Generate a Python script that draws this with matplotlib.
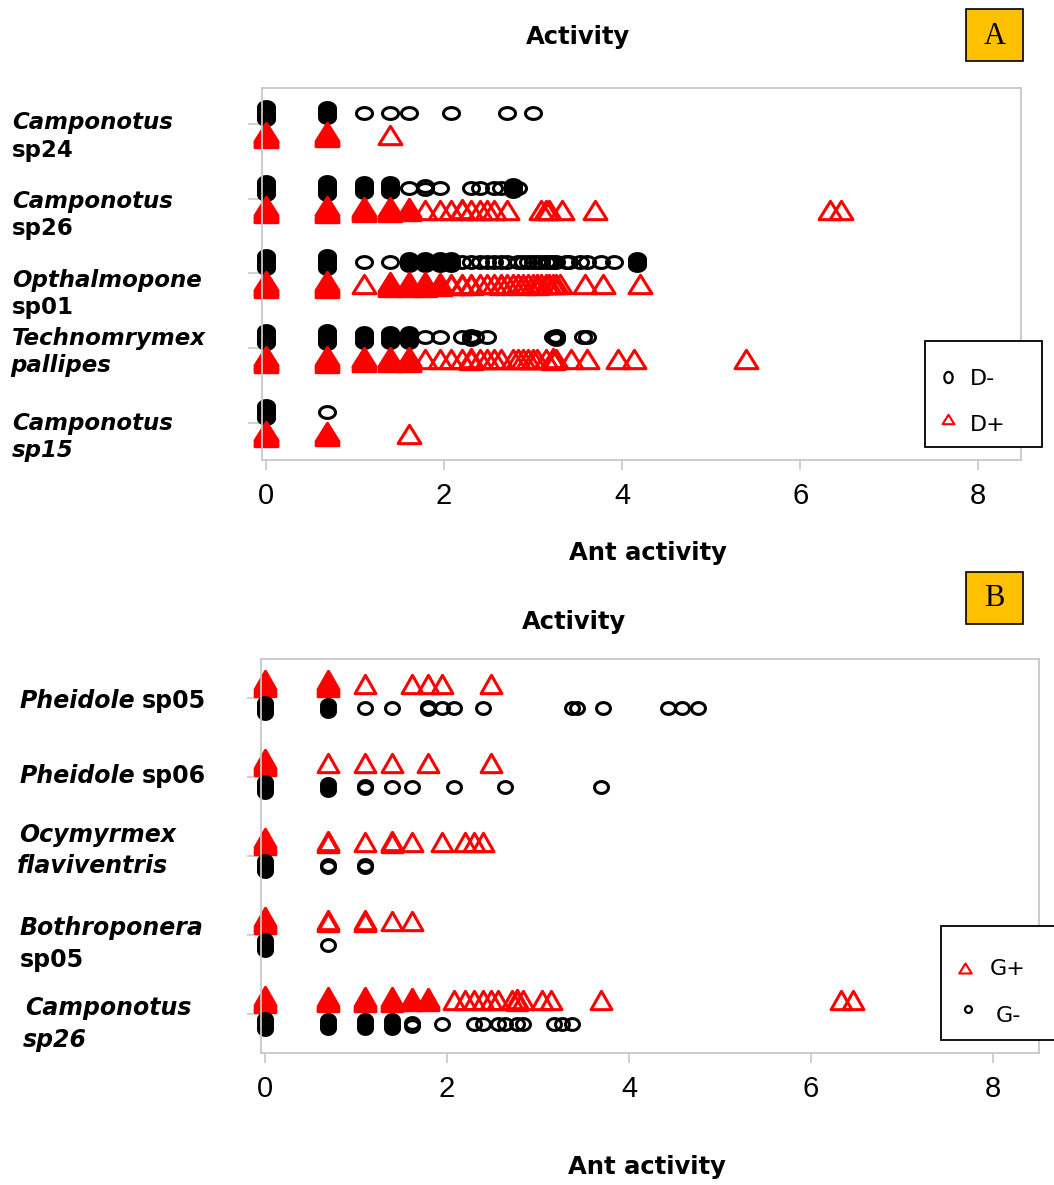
import numpy as np
import matplotlib.pyplot as plt
from matplotlib.patches import Rectangle
from matplotlib.path import Path

W, H = 1054, 1185

# ---- panel A: ant activity (log scale) with / without disturbance ----
a_sp24_dminus = [0, 0, 0, 0, 0, 0, 0.69, 0.69, 0.69, 0.69, 1.10, 1.39, 1.61, 2.08, 2.71, 3.00]
a_sp24_dplus = [0, 0, 0, 0, 0, 0, 0.69, 0.69, 0.69, 0.69, 1.39]

a_sp26_dminus = [0, 0, 0, 0, 0, 0, 0.69, 0.69, 0.69, 0.69, 0.69, 1.10, 1.10, 1.10, 1.10,
                 1.39, 1.39, 1.39, 1.39, 1.61, 1.79, 1.79, 1.95, 2.30, 2.40, 2.56, 2.64,
                 2.77, 2.77, 2.77, 2.83]
a_sp26_dplus = [0, 0, 0, 0, 0, 0, 0.69, 0.69, 0.69, 0.69, 0.69, 1.10, 1.10, 1.10, 1.10,
                1.39, 1.39, 1.39, 1.39, 1.61, 1.61, 1.61, 1.79, 1.95, 2.08, 2.20, 2.20,
                2.30, 2.40, 2.48, 2.56, 2.71, 3.09, 3.14, 3.18, 3.33, 3.69, 6.33, 6.46]

a_sp01_dminus = [0, 0, 0, 0, 0, 0, 0.69, 0.69, 0.69, 0.69, 0.69, 1.10, 1.39,
                 1.61, 1.61, 1.61, 1.79, 1.79, 1.79, 1.95, 1.95, 1.95, 2.08, 2.08, 2.08,
                 2.20, 2.30, 2.40, 2.48, 2.56, 2.64, 2.71, 2.83, 2.89, 2.94, 3.00, 3.04,
                 3.09, 3.14, 3.18, 3.22, 3.26, 3.37, 3.40, 3.53, 3.61, 3.76, 3.91,
                 4.17, 4.17, 4.17]
a_sp01_dplus = [0, 0, 0, 0, 0, 0, 0.69, 0.69, 0.69, 0.69, 0.69, 1.10,
                1.39, 1.39, 1.39, 1.39, 1.61, 1.61, 1.61, 1.61, 1.79, 1.79, 1.79, 1.79,
                1.95, 1.95, 1.95, 2.08, 2.08, 2.20, 2.20, 2.30, 2.30, 2.40, 2.48, 2.56,
                2.64, 2.64, 2.71, 2.77, 2.83, 2.89, 2.89, 2.94, 3.00, 3.04, 3.04, 3.09,
                3.14, 3.18, 3.22, 3.26, 3.30, 3.58, 3.78, 4.20]

a_pall_dminus = [0, 0, 0, 0, 0, 0, 0.69, 0.69, 0.69, 0.69, 0.69, 1.10, 1.10, 1.10, 1.10,
                 1.39, 1.39, 1.39, 1.39, 1.61, 1.61, 1.61, 1.61, 1.79, 1.95, 2.20,
                 2.30, 2.30, 2.35, 2.48, 3.22, 3.26, 3.26, 3.56, 3.61]
a_pall_dplus = [0, 0, 0, 0, 0, 0, 0.69, 0.69, 0.69, 0.69, 0.69, 1.10, 1.10, 1.10, 1.10,
                1.39, 1.39, 1.39, 1.39, 1.61, 1.61, 1.61, 1.61, 1.79, 1.95, 2.08, 2.20,
                2.30, 2.30, 2.40, 2.48, 2.56, 2.64, 2.77, 2.83, 2.89, 2.94, 3.00, 3.04,
                3.14, 3.22, 3.22, 3.26, 3.43, 3.61, 3.95, 4.13, 5.39]

a_sp15_dminus = [0, 0, 0, 0, 0, 0.69]
a_sp15_dplus = [0, 0, 0, 0, 0, 0.69, 0.69, 0.69, 1.61]

a_dminus = [a_sp24_dminus, a_sp26_dminus, a_sp01_dminus, a_pall_dminus, a_sp15_dminus]
a_dplus = [a_sp24_dplus, a_sp26_dplus, a_sp01_dplus, a_pall_dplus, a_sp15_dplus]

# ---- panel B: with / without ground cover ----
b_ph05_gplus = [0, 0, 0, 0, 0, 0.69, 0.69, 0.69, 0.69, 0.69, 1.10, 1.61, 1.79, 1.95, 2.48]
b_ph05_gminus = [0, 0, 0, 0, 0, 0.69, 0.69, 0.69, 1.10, 1.39, 1.79, 1.79, 1.95, 2.08,
                 2.40, 3.37, 3.43, 3.71, 4.43, 4.58, 4.76]

b_ph06_gplus = [0, 0, 0, 0, 0, 0.69, 1.10, 1.39, 1.79, 2.48]
b_ph06_gminus = [0, 0, 0, 0, 0, 0.69, 0.69, 0.69, 1.10, 1.10, 1.39, 1.61, 2.08, 2.64, 3.69]

b_ocy_gplus = [0, 0, 0, 0, 0, 0.69, 0.69, 1.10, 1.39, 1.39, 1.61, 1.95, 2.20, 2.30, 2.40]
b_ocy_gminus = [0, 0, 0, 0, 0, 0.69, 0.69, 1.10, 1.10]

b_both_gplus = [0, 0, 0, 0, 0, 0.69, 0.69, 1.10, 1.10, 1.39, 1.61]
b_both_gminus = [0, 0, 0, 0, 0, 0.69]

b_sp26_gplus = [0, 0, 0, 0, 0, 0.69, 0.69, 0.69, 0.69, 1.10, 1.10, 1.10, 1.10,
                1.39, 1.39, 1.39, 1.39, 1.61, 1.61, 1.61, 1.79, 1.79, 1.79, 2.08, 2.20,
                2.30, 2.40, 2.48, 2.56, 2.71, 2.77, 2.77, 2.83, 3.04, 3.14, 3.69, 6.33, 6.46]
b_sp26_gminus = [0, 0, 0, 0, 0, 0.69, 0.69, 0.69, 0.69, 1.10, 1.10, 1.10, 1.10,
                 1.39, 1.39, 1.39, 1.39, 1.61, 1.61, 1.95, 2.30, 2.40, 2.56, 2.64,
                 2.77, 2.83, 3.18, 3.26, 3.37]

b_gplus = [b_ph05_gplus, b_ph06_gplus, b_ocy_gplus, b_both_gplus, b_sp26_gplus]
b_gminus = [b_ph05_gminus, b_ph06_gminus, b_ocy_gminus, b_both_gminus, b_sp26_gminus]

xticks = [0, 2, 4, 6, 8]
rows = [5, 4, 3, 2, 1]   # species rows, top to bottom

GRAY = '#c8c8c8'
RED = '#ff0000'


def ellipse_marker(rx, ry):
    t = np.linspace(0, 2 * np.pi, 60)
    v = np.column_stack([rx * np.cos(t), ry * np.sin(t)])
    return Path(v, closed=True)


def tri_marker(h):
    return Path([(0, h), (-1, -h), (1, -h), (0, h)], closed=True)


def draw_series(ax, series, base_offset, marker, ms, color, spread):
    # stacked repeats get a small vertical spread so they read as a heavier blob
    for y0, vals in zip(rows, series):
        vals = np.asarray(vals, dtype=float)
        uniq, counts = np.unique(vals, return_counts=True)
        for x, n in zip(uniq, counts):
            s = spread * min(1.0, (n - 1) / 4)
            offs = np.linspace(-s, s, n)
            fc = color if n >= 3 else 'none'
            ax.plot(np.full(n, x), y0 + base_offset + offs, linestyle='none',
                    marker=marker, ms=ms, mfc=fc, mec=color, mew=2.2, clip_on=False)


def style_axes(ax):
    for s in ax.spines.values():
        s.set_color(GRAY)
        s.set_linewidth(1.3)
    ax.set_xticks(xticks)
    ax.set_yticks(rows)
    ax.set_yticklabels([])
    ax.tick_params(axis='y', length=10, width=1.2, color=GRAY)
    ax.tick_params(axis='x', length=7, width=1.2, color=GRAY, pad=9,
                   labelsize=21, labelfontfamily='Liberation Sans')


fig = plt.figure(figsize=(W / 100, H / 100), dpi=100)

# panel A
axA = fig.add_axes([262 / W, 1 - 460 / H, 759 / W, 372 / H])
axA.set_xlim(-0.045, 8.48)
axA.set_ylim(0.505, 5.48)
style_axes(axA)
draw_series(axA, a_dminus, 0.147, ellipse_marker(1, 0.74), 11.5, 'black', 0.08)
draw_series(axA, a_dplus, -0.147, tri_marker(0.8), 16.5, RED, 0.045)

# panel B
axB = fig.add_axes([261 / W, 1 - 1053 / H, 778 / W, 394 / H])
axB.set_xlim(-0.044, 8.505)
axB.set_ylim(0.506, 5.49)
style_axes(axB)
draw_series(axB, b_gplus, 0.18, tri_marker(0.88), 15, RED, 0.045)
draw_series(axB, b_gminus, -0.13, ellipse_marker(1, 0.85), 10, 'black', 0.065)

# overlay in pixel coordinates for labels, legends and panel tags
ov = fig.add_axes([0, 0, 1, 1])
ov.set_xlim(0, W)
ov.set_ylim(H, 0)
ov.axis('off')

label_lines = [
    # panel A
    ("Camponotus", 'italic', 12, 129, 16.5), ("sp24", 'normal', 12, 157, 16.5),
    ("Camponotus", 'italic', 12, 208, 16.5), ("sp26", 'normal', 12, 235, 16.5),
    ("Opthalmopone", 'italic', 12, 287, 16.5), ("sp01", 'normal', 12, 314, 16.5),
    ("Technomrymex", 'italic', 12, 345, 16.5), ("pallipes", 'italic', 10, 372, 16.5),
    ("Camponotus", 'italic', 12, 430, 16.5), ("sp15", 'italic', 12, 457, 16.5),
    # panel B
    ("Pheidole", 'italic', 19, 708, 17), ("sp05", 'normal', 142, 708, 17),
    ("Pheidole", 'italic', 19, 783, 17), ("sp06", 'normal', 142, 783, 17),
    ("Ocymyrmex", 'italic', 19, 842, 17), ("flaviventris", 'italic', 17, 873, 17),
    ("Bothroponera", 'italic', 20, 935, 17), ("sp05", 'normal', 20, 967, 17),
    ("Camponotus", 'italic', 25, 1015, 17), ("sp26", 'italic', 23, 1047, 17),
]
for txt, st, x, y, fs in label_lines:
    ov.text(x, y, txt, ha='left', va='baseline', fontsize=fs,
            fontweight='bold', fontstyle=st)

for x, y, txt in [(578, 37, "Activity"), (648, 553, "Ant activity"),
                  (574, 622, "Activity"), (647, 1167, "Ant activity")]:
    ov.text(x, y, txt, ha='center', va='center', fontsize=17.5, fontweight='bold')

# panel tags
for y0, tag in [(9, "A"), (572, "B")]:
    ov.add_patch(Rectangle((966, y0), 57, 52, facecolor='#FFC000',
                           edgecolor='black', linewidth=1.2))
    ov.text(994.5, y0 + 27, tag, ha='center', va='center', fontsize=22,
            family='Liberation Serif')

# legend A
ov.add_patch(Rectangle((925, 341), 117, 106, facecolor='white',
                       edgecolor='black', linewidth=1.3))
ov.plot([948], [377], linestyle='none', marker=ellipse_marker(0.75, 1), ms=8,
        mfc='none', mec='black', mew=1.6)
ov.plot([948], [419], linestyle='none', marker=tri_marker(0.8), ms=8.5,
        mfc='none', mec=RED, mew=1.5)
ov.text(970, 379, "D-", ha='left', va='center', fontsize=16)
ov.text(970, 425, "D+", ha='left', va='center', fontsize=16)

# legend B (box runs off the right edge)
ov.add_patch(Rectangle((941, 926), 130, 114, facecolor='white',
                       edgecolor='black', linewidth=1.3, clip_on=False))
ov.plot([965], [968], linestyle='none', marker=tri_marker(0.8), ms=9,
        mfc='none', mec=RED, mew=1.5)
ov.plot([968], [1009], linestyle='none', marker='o', ms=5,
        mfc='none', mec='black', mew=1.6)
ov.text(990, 969, "G+", ha='left', va='center', fontsize=16)
ov.text(996, 1016, "G-", ha='left', va='center', fontsize=16)

fig.savefig('out.png', dpi=100, facecolor='white')
